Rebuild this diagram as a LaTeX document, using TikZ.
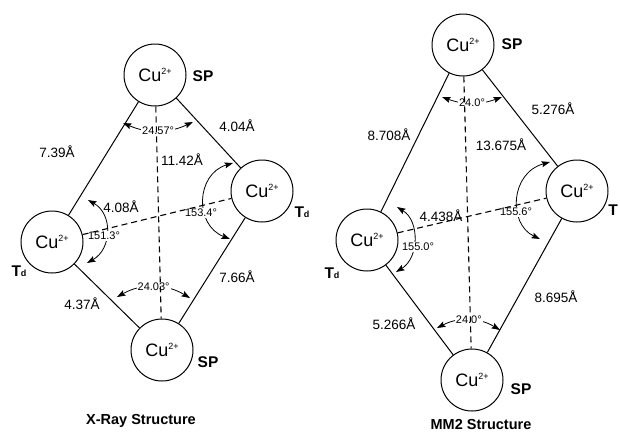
\documentclass[tikz,border=0pt]{standalone}
\usepackage{fontspec}
\setmainfont{Liberation Sans}
\usetikzlibrary{arrows.meta}
\newcommand{\cuion}{Cu\raisebox{6.5pt}{\fontsize{9}{9}\selectfont 2+}}
\newcommand{\tdlab}{T{\fontsize{9}{9}\selectfont d}}
\begin{document}
\begin{tikzpicture}[x=1pt,y=-1pt,
  ion/.style={circle,draw,line width=1pt,minimum size=62pt,inner sep=0pt,font=\fontsize{18}{18}\selectfont},
  tag/.style={font=\bfseries\fontsize{15.5}{15.5}\selectfont,inner sep=0pt},
  bond/.style={line width=1pt},
  farline/.style={line width=1.1pt,dash pattern=on 6pt off 4pt},
  dist/.style={font=\fontsize{13.5}{13.5}\selectfont,inner sep=0pt},
  ang/.style={font=\fontsize{11}{11}\selectfont,fill=white,inner sep=1pt},
  angarr/.style={line width=0.8pt,{Stealth[length=8.5pt,width=6pt,inset=1.5pt]}-{Stealth[length=8.5pt,width=6pt,inset=1.5pt]}},
  title/.style={font=\bfseries\fontsize{14.5}{14.5}\selectfont,inner sep=0pt}
]
\useasboundingbox (0,0) rectangle (620,432);

% ---------- X-Ray structure ----------
\node[ion] (tl) at (155,75) {\cuion};
\node[ion] (rl) at (262,191) {\cuion};
\node[ion] (ll) at (52,242) {\cuion};
\node[ion] (bl) at (162,350) {\cuion};

\node[tag] (tlT) at (203,76) {SP};
\node[tag] (rlT) at (302,212) {\tdlab};
\node[tag] (llT) at (19,271) {\tdlab};
\node[tag] (blT) at (208,362) {SP};

\draw[bond] (tl) -- (ll);
\draw[bond] (tl) -- (rl);
\draw[bond] (ll) -- (bl);
\draw[bond] (rl) -- (bl);

\node[dist] (d1) at (57,152) {7.39Å};
\node[dist] (d2) at (237,126) {4.04Å};
\node[dist] (d3) at (182,160) {11.42Å};
\node[dist] (d4) at (121,207) {4.08Å};
\node[dist] (d5) at (82,304) {4.37Å};
\node[dist] (d6) at (237,277) {7.66Å};

\coordinate (ta1) at (123,123);
\coordinate (ta2) at (193,122);
\draw[angarr] (ta1) to[bend right=24] node[ang] {24.57°} (ta2);
\coordinate (ba1) at (117,297);
\coordinate (ba2) at (190,298);
\draw[angarr] (ba1) to[bend left=30] node[ang] {24.03°} (ba2);
\coordinate (ra1) at (233,163);
\coordinate (ra2) at (230,239);
\draw[angarr] (ra1) .. controls +(-37,11) and +(-36,-14) .. (ra2);
\node[ang] (rang) at (201,213) {153.4°};
\coordinate (la1) at (88,200);
\coordinate (la2) at (87,263);
\draw[angarr] (la1) .. controls +(25,14) and +(25,-14) .. (la2);
\node[ang] (lang) at (104,236) {151.3°};

\draw[farline] (tl) -- (bl);
\draw[farline] (ll) -- (rl);

\node[title] (t1) at (141,421) {X-Ray Structure};

% ---------- MM2 structure ----------
\node[ion] (tr) at (463,45) {\cuion};
\node[ion] (rr) at (577,191) {\cuion};
\node[ion] (lr) at (367,240) {\cuion};
\node[ion] (br) at (472,380) {\cuion};

\node[tag] (trT) at (512,44) {SP};
\node[tag] (rrT) at (613,210) {T};
\node[tag] (lrT) at (332,273) {\tdlab};
\node[tag] (brT) at (521,389) {SP};

\draw[bond] (tr) -- (lr);
\draw[bond] (tr) -- (rr);
\draw[bond] (lr) -- (br);
\draw[bond] (rr) -- (br);

\node[dist] (e1) at (389,135) {8.708Å};
\node[dist] (e2) at (553,109) {5.276Å};
\node[dist] (e3) at (501,145) {13.675Å};
\node[dist] (e4) at (441,216) {4.438Å};
\node[dist] (e5) at (394,324) {5.266Å};
\node[dist] (e6) at (556,297) {8.695Å};

\coordinate (tb1) at (442,97);
\coordinate (tb2) at (502,97);
\draw[angarr] (tb1) to[bend right=20] node[ang] {24.0°} (tb2);
\coordinate (bb1) at (437,328);
\coordinate (bb2) at (500,330);
\draw[angarr] (bb1) to[bend left=29] node[ang] {24.0°} (bb2);
\coordinate (rb1) at (550,162);
\coordinate (rb2) at (540,239);
\draw[angarr] (rb1) .. controls +(-40,11) and +(-32,-15) .. (rb2);
\node[ang] (rbang) at (516,212) {155.6°};
\coordinate (lb1) at (397,207);
\coordinate (lb2) at (396,272);
\draw[angarr] (lb1) .. controls +(23,14) and +(23,-14) .. (lb2);
\node[ang] (lbang) at (418,247) {155.0°};

\draw[farline] (tr) -- (br);
\draw[farline] (lr) -- (rr);

\node[title] (t2) at (481,424) {MM2 Structure};
\end{tikzpicture}
\end{document}
